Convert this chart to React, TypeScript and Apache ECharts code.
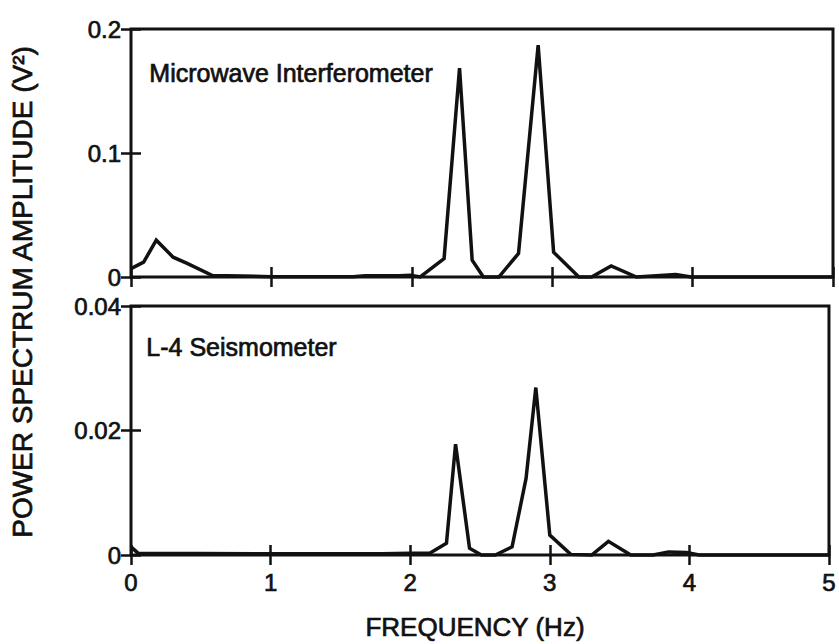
import React, { useEffect, useRef } from "react";
import * as echarts from "echarts";

// Frequency ticks (Hz)
const xTicks = [0, 1, 2, 3, 4, 5];

// Top panel: Microwave Interferometer (V^2)
const topFreq = [0, 0.09, 0.18, 0.3, 0.4, 0.58, 1.0, 1.58, 1.67, 1.91, 1.99, 2.06, 2.23, 2.34, 2.43, 2.51, 2.62, 2.76, 2.9, 3.01, 3.19, 3.28, 3.42, 3.6, 3.88, 3.99, 4.06, 5.0];
const topPower = [0.0068, 0.012, 0.0297, 0.016, 0.011, 0.0012, 0.0003, 0.0003, 0.001, 0.001, 0.0015, 0, 0.0148, 0.1685, 0.0135, 0, 0, 0.019, 0.187, 0.02, 0, 0, 0.0089, 0, 0.002, 0, 0, 0];

// Bottom panel: L-4 Seismometer (V^2)
const botFreq = [0, 0.05, 1.0, 1.8, 2.0, 2.14, 2.26, 2.325, 2.425, 2.51, 2.61, 2.73, 2.83, 2.9, 3.0, 3.15, 3.3, 3.42, 3.58, 3.74, 3.85, 3.98, 4.07, 5.0];
const botPower = [0.0013, 0.0003, 0.0002, 0.0002, 0.0003, 0.0003, 0.0019, 0.0178, 0.0011, 0, 0, 0.0013, 0.0123, 0.0269, 0.0032, 0.0001, 0, 0.0022, 0, 0, 0.0005, 0.0004, 0, 0];

// Axis ranges
const topYMax = 0.2;
const topYStep = 0.1;
const botYMax = 0.04;
const botYStep = 0.02;

const topLabel = "Microwave Interferometer";
const bottomLabel = "L-4 Seismometer";
const xTitle = "FREQUENCY (Hz)";
const yTitle = "POWER SPECTRUM AMPLITUDE (V²)";

export default function App() {
  const ref = useRef<HTMLDivElement>(null);

  useEffect(() => {
    if (!ref.current) return;
    const chart = echarts.init(ref.current, null, { renderer: "svg" });
    const font = "'Liberation Sans', Arial, Helvetica, sans-serif";
    const black = "#111";
    const tick = { show: true, inside: true, length: 10, lineStyle: { color: black, width: 2.5 } };

    const grids = [
      { left: 131, top: 29, width: 702, height: 248 },
      { left: 131, top: 306, width: 702, height: 249 },
    ];

    const labelStyle = {
      color: black,
      fontFamily: font,
      fontSize: 24,
      textBorderColor: black,
      textBorderWidth: 0.7,
    };

    const xAxes: any[] = [];
    const yAxes: any[] = [];
    grids.forEach((_, gi) => {
      ["bottom", "top"].forEach((pos) => {
        xAxes.push({
          type: "value",
          gridIndex: gi,
          position: pos,
          min: xTicks[0],
          max: xTicks[xTicks.length - 1],
          interval: 1,
          axisLine: { show: false },
          axisTick: tick,
          splitLine: { show: false },
          axisLabel: { show: gi === 1 && pos === "bottom", margin: 15, ...labelStyle },
        });
      });
      const yMax = gi === 0 ? topYMax : botYMax;
      const yStep = gi === 0 ? topYStep : botYStep;
      ["left", "right"].forEach((pos) => {
        yAxes.push({
          type: "value",
          gridIndex: gi,
          position: pos,
          min: 0,
          max: yMax,
          interval: yStep,
          axisLine: { show: false },
          axisTick: tick,
          splitLine: { show: false },
          axisLabel: { show: pos === "left", margin: 10, ...labelStyle },
        });
      });
    });

    const lineStyle = { color: black, width: 3.5, join: "miter", miterLimit: 2 };

    const textStroke = { stroke: black, lineWidth: 0.7 };

    chart.setOption({
      animation: false,
      backgroundColor: "#fff",
      grid: grids.map((g) => ({ ...g, show: true, borderColor: black, borderWidth: 3, backgroundColor: "transparent" })),
      xAxis: xAxes,
      yAxis: yAxes,
      series: [
        {
          type: "line",
          xAxisIndex: 0,
          yAxisIndex: 0,
          data: topFreq.map((f, i) => [f, topPower[i]]),
          showSymbol: false,
          symbol: "none",
          clip: false,
          lineStyle,
        },
        {
          type: "line",
          xAxisIndex: 2,
          yAxisIndex: 2,
          data: botFreq.map((f, i) => [f, botPower[i]]),
          showSymbol: false,
          symbol: "none",
          clip: false,
          lineStyle,
        },
      ],
      graphic: [
        {
          type: "text",
          left: 149,
          top: 60,
          style: { text: topLabel, font: `25px ${font}`, fill: black, ...textStroke },
        },
        {
          type: "text",
          left: 146,
          top: 334,
          style: { text: bottomLabel, font: `25px ${font}`, fill: black, ...textStroke },
        },
        {
          type: "text",
          x: 475,
          y: 627,
          style: { text: xTitle, font: `26px ${font}`, fill: black, align: "center", verticalAlign: "middle", ...textStroke },
        },
        {
          type: "text",
          x: 22,
          y: 292,
          rotation: Math.PI / 2,
          style: { text: yTitle, font: `28px ${font}`, fill: black, align: "center", verticalAlign: "middle", ...textStroke },
        },
      ],
    });

    return () => chart.dispose();
  }, []);

  return (
    <div
      ref={ref}
      style={{ position: "absolute", left: 0, top: 0, width: 839, height: 644, background: "#fff" }}
    />
  );
}
